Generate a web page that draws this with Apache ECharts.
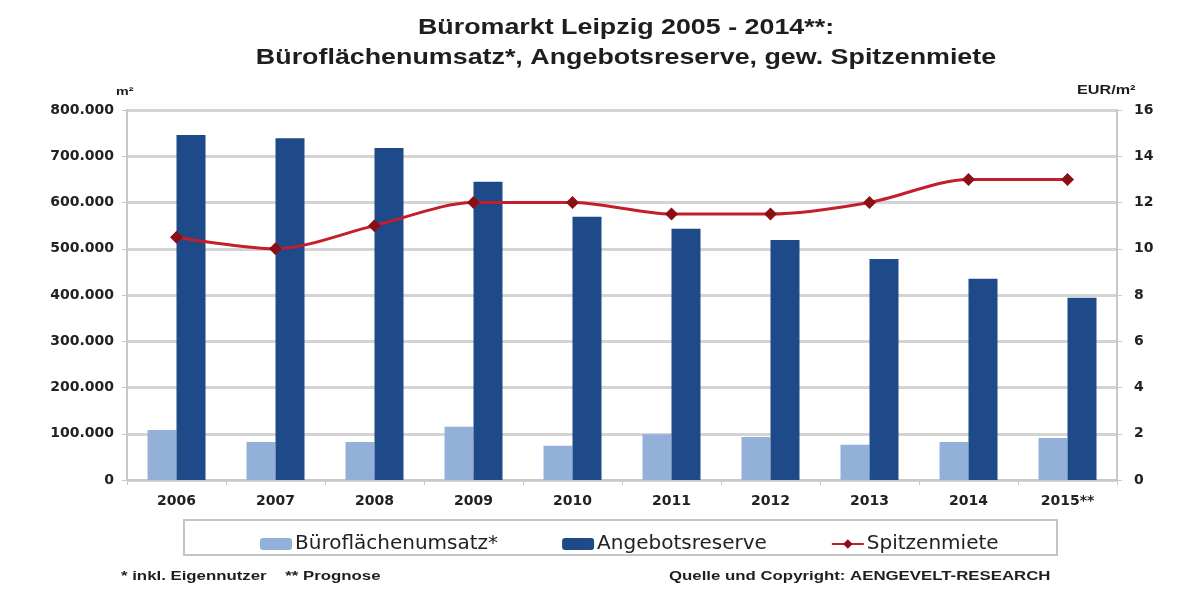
<!DOCTYPE html>
<html><head><meta charset="utf-8">
<script src="https://cdn.jsdelivr.net/npm/echarts@6/dist/echarts.min.js"></script>
<style>html,body{margin:0;padding:0;background:#fff}#c{width:1200px;height:598px}</style>
</head><body><div id="c"></div>
<script>
const categories = ['2006','2007','2008','2009','2010','2011','2012','2013','2014','2015**'];
const umsatz = [108000, 82000, 82000, 115000, 74000, 99000, 93000, 76000, 82000, 91000];
const reserve = [746000, 739000, 718000, 645000, 569000, 543000, 519000, 478000, 435000, 394000];
const miete = [10.5, 10.0, 11.0, 12.0, 12.0, 11.5, 11.5, 12.0, 13.0, 13.0];
const titleLines = ['Büromarkt Leipzig 2005 - 2014**:', 'Büroflächenumsatz*, Angebotsreserve, gew. Spitzenmiete'];
const footLeft = '* inkl. Eigennutzer    ** Prognose';
const footRight = 'Quelle und Copyright: AENGEVELT-RESEARCH';

const fmt = v => v === 0 ? '0' : String(v).replace(/\B(?=(\d{3})+(?!\d))/g, '.');
const chart = echarts.init(document.getElementById('c'));
const F = 'Liberation Sans, Arial, sans-serif';
const D = 'DejaVu Sans, sans-serif';
const txt = (t, x, y, font, sx, align) => ({
  type: 'text', x: x, y: y, scaleX: sx,
  style: { text: t, font: font, fill: '#1e1e1e', textAlign: align || 'left', textVerticalAlign: 'middle' }
});
chart.setOption({
  animation: false,
  backgroundColor: '#fff',
  grid: { left: 127, right: 83, top: 110, bottom: 118 },
  legend: {
    top: 529, left: 255, itemGap: 64, itemWidth: 32, itemHeight: 12,
    textStyle: { fontFamily: D, fontSize: 20, color: '#222', padding: [0, 0, 0, -2] },
    data: ['Büroflächenumsatz*', 'Angebotsreserve', 'Spitzenmiete']
  },
  graphic: [
    { type: 'rect', shape: { x: 184, y: 520, width: 873, height: 35 }, style: { fill: 'none', stroke: '#c4c4c4', lineWidth: 2 }, z: -1 },
    txt(titleLines[0], 626, 28, 'bold 22px ' + F, 1.22, 'center'),
    txt(titleLines[1], 626, 58, 'bold 22px ' + F, 1.22, 'center'),
    txt('m²', 116, 92, 'bold 11px ' + F, 1.3),
    txt('EUR/m²', 1077, 91, 'bold 12px ' + F, 1.35),
    txt(footLeft, 121, 577, 'bold 12px ' + F, 1.4),
    txt(footRight, 669, 577, 'bold 12px ' + F, 1.4)
  ],
  xAxis: {
    type: 'category', data: categories,
    axisLine: { lineStyle: { color: '#c8c8c8', width: 2 } },
    axisTick: { show: true, lineStyle: { color: '#c8c8c8' } },
    axisLabel: { fontFamily: D, fontSize: 14, fontWeight: 'bold', color: '#222', margin: 14 }
  },
  yAxis: [
    {
      type: 'value', min: 0, max: 800000, interval: 100000,
      axisLine: { show: true, lineStyle: { color: '#c8c8c8', width: 2 } },
      axisTick: { show: true, lineStyle: { color: '#c8c8c8' } },
      splitLine: { lineStyle: { color: '#d4d4d4', width: 3 } },
      axisLabel: { fontFamily: D, fontSize: 14, fontWeight: 'bold', color: '#222', formatter: fmt, margin: 13 }
    },
    {
      type: 'value', min: 0, max: 16, interval: 2,
      axisLine: { show: true, lineStyle: { color: '#c8c8c8', width: 2 } },
      axisTick: { show: true, lineStyle: { color: '#c8c8c8' } },
      splitLine: { show: false },
      axisLabel: { fontFamily: D, fontSize: 14, fontWeight: 'bold', color: '#222', margin: 17 }
    }
  ],
  series: [
    { name: 'Büroflächenumsatz*', type: 'bar', data: umsatz, barWidth: 29, barGap: '0%',
      itemStyle: { color: '#93b1d8' } },
    { name: 'Angebotsreserve', type: 'bar', data: reserve, barWidth: 29, barGap: '0%',
      itemStyle: { color: '#1f4a8a' } },
    { name: 'Spitzenmiete', type: 'line', yAxisIndex: 1, data: miete, smooth: 0.3,
      symbol: 'diamond', symbolSize: 13,
      lineStyle: { color: '#c41e2a', width: 3 },
      itemStyle: { color: '#8b1016' } }
  ]
});
</script></body></html>
